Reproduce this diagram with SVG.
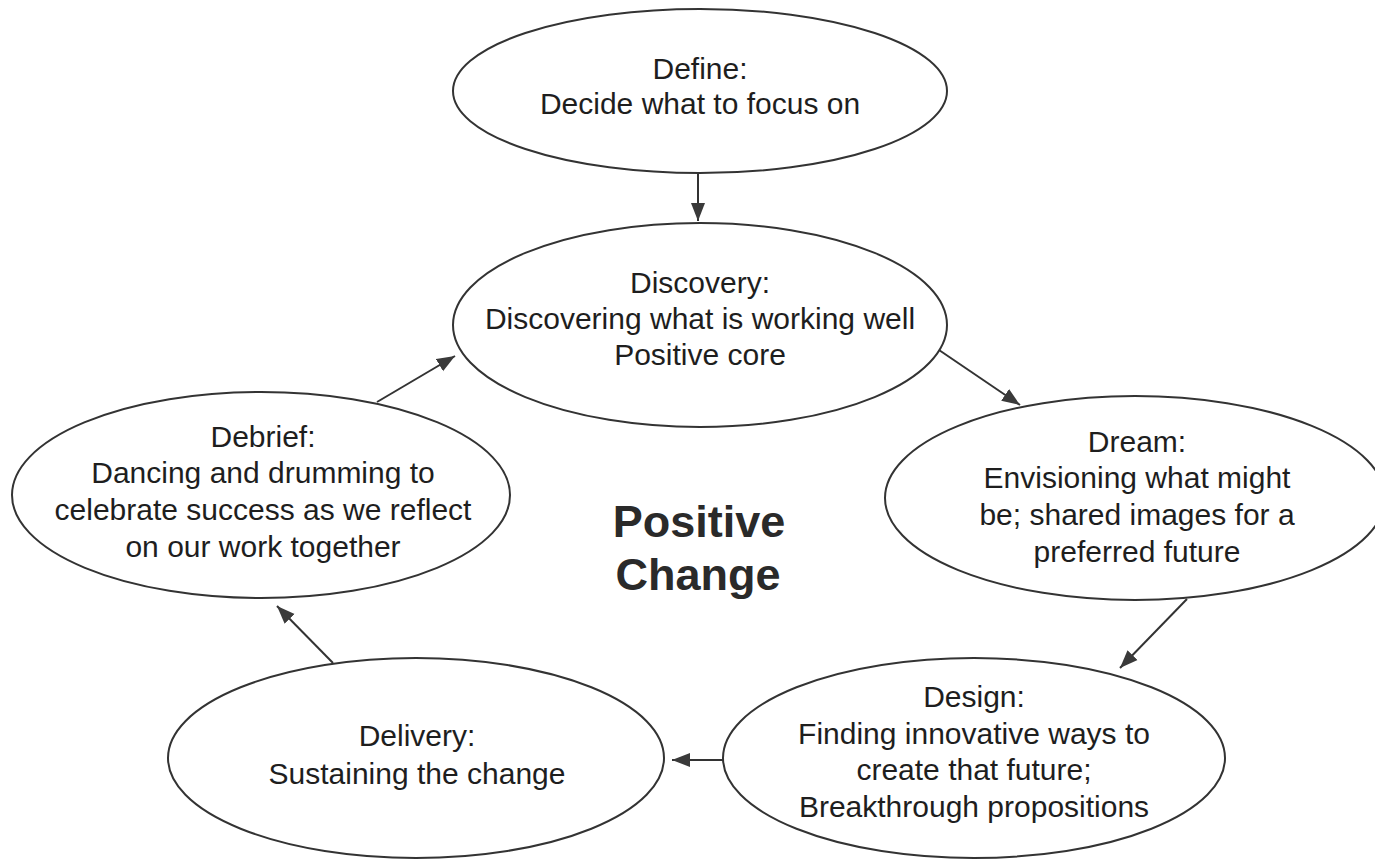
<svg xmlns="http://www.w3.org/2000/svg" width="1375" height="859" viewBox="0 0 1375 859">
<defs>
<style>
.node ellipse{fill:#ffffff;stroke:#333333;stroke-width:2}
.node text{font-family:"Liberation Sans",Arial,sans-serif;font-size:30px;fill:#1e1e1e;text-anchor:middle}
.title{font-family:"Liberation Sans",Arial,sans-serif;font-size:45px;font-weight:bold;fill:#2a2a2a;text-anchor:middle}
.conn line{stroke:#333333;stroke-width:2;fill:none;marker-end:url(#arr)}
</style>
<marker id="arr" markerUnits="userSpaceOnUse" markerWidth="20" markerHeight="16" viewBox="0 0 20 16" refX="18" refY="8" orient="auto">
<path d="M0,1 L18,8 L0,15 Z" fill="#3a3a3a"/>
</marker>
</defs>
<rect width="1375" height="859" fill="#ffffff"/>
<g id="connectors" class="conn">
<line x1="698" y1="173" x2="698" y2="221"/>
<line x1="939" y1="350" x2="1020" y2="405"/>
<line x1="1187" y1="599" x2="1120" y2="668"/>
<line x1="723" y1="760" x2="672" y2="760"/>
<line x1="333" y1="663" x2="277" y2="606"/>
<line x1="377" y1="402" x2="455" y2="356"/>
</g>
<g id="define" class="node">
<ellipse cx="700" cy="91" rx="247" ry="82"/>
<text x="700" y="79">Define:</text>
<text x="700" y="114">Decide what to focus on</text>
</g>
<g id="discovery" class="node">
<ellipse cx="700" cy="325" rx="247" ry="102"/>
<text x="700" y="293">Discovery:</text>
<text x="700" y="329">Discovering what is working well</text>
<text x="700" y="365">Positive core</text>
</g>
<g id="dream" class="node">
<ellipse cx="1135" cy="498" rx="250" ry="102"/>
<text x="1137" y="452">Dream:</text>
<text x="1137" y="488">Envisioning what might</text>
<text x="1137" y="525">be; shared images for a</text>
<text x="1137" y="562">preferred future</text>
</g>
<g id="design" class="node">
<ellipse cx="974" cy="758" rx="251" ry="100"/>
<text x="974" y="707">Design:</text>
<text x="974" y="744">Finding innovative ways to</text>
<text x="974" y="780">create that future;</text>
<text x="974" y="817">Breakthrough propositions</text>
</g>
<g id="delivery" class="node">
<ellipse cx="416" cy="758" rx="248" ry="100"/>
<text x="417" y="746">Delivery:</text>
<text x="417" y="784">Sustaining the change</text>
</g>
<g id="debrief" class="node">
<ellipse cx="261" cy="495" rx="249" ry="103"/>
<text x="263" y="447">Debrief:</text>
<text x="263" y="483">Dancing and drumming to</text>
<text x="263" y="520">celebrate success as we reflect</text>
<text x="263" y="557">on our work together</text>
</g>
<g id="center-label">
<text class="title" x="699" y="537">Positive</text>
<text class="title" x="698" y="590">Change</text>
</g>
</svg>
